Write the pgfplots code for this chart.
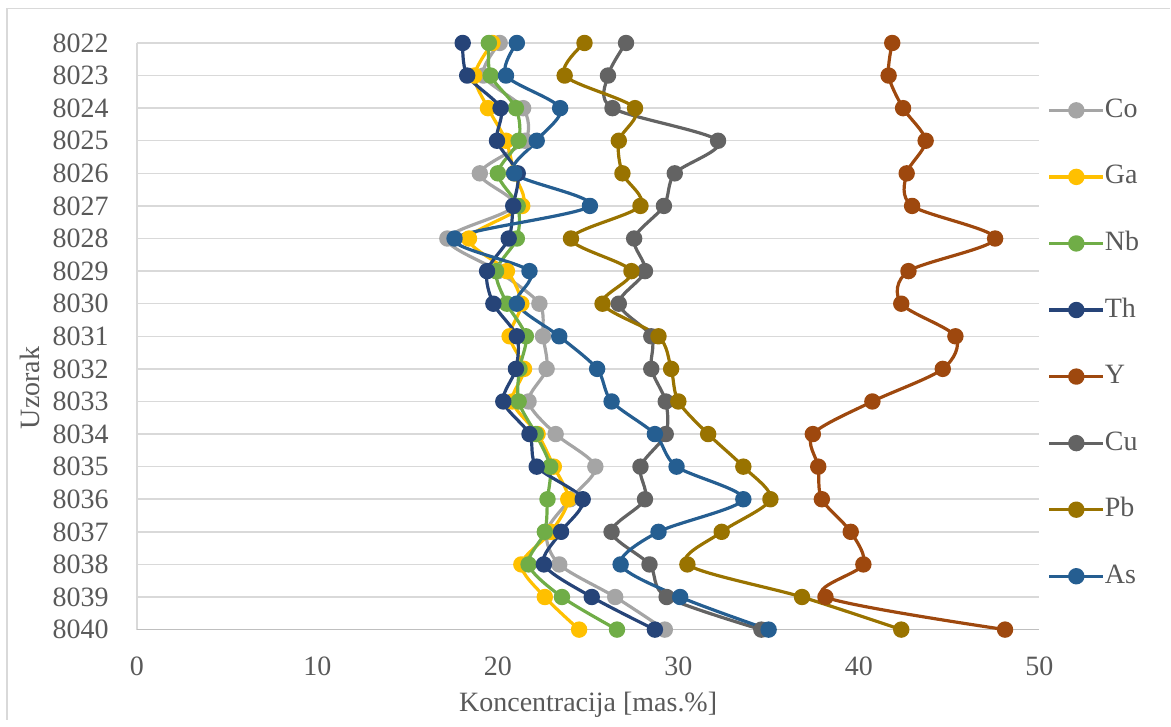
\documentclass[border=0pt]{standalone}
\usepackage{fontspec}
\setmainfont{Liberation Serif}
\usepackage{pgfplots}
\pgfplotsset{compat=1.18}
\usepackage{pgfplotstable}

\definecolor{cCo}{HTML}{A5A5A5}
\definecolor{cGa}{HTML}{FFC000}
\definecolor{cNb}{HTML}{70AD47}
\definecolor{cTh}{HTML}{264478}
\definecolor{cY}{HTML}{9E480E}
\definecolor{cCu}{HTML}{636363}
\definecolor{cPb}{HTML}{997300}
\definecolor{cAs}{HTML}{255E91}
\definecolor{cGrid}{HTML}{D9D9D9}
\definecolor{cAxis}{HTML}{BFBFBF}
\definecolor{cText}{HTML}{595959}

\pgfplotstableread{
y    Co    Ga    Nb    Th    Y     Cu    Pb    As
8022 20.1  19.7  19.5  18.05 41.85 27.1  24.8  21.05
8023 19.2  18.7  19.6  18.3  41.65 26.1  23.7  20.45
8024 21.4  19.45 21.0  20.15 42.45 26.35 27.6  23.45
8025 21.5  20.45 21.15 19.95 43.7  32.2  26.7  22.15
8026 19.0  20.9  20.0  21.1  42.65 29.8  26.9  20.9
8027 20.9  21.35 21.1  20.85 42.95 29.2  27.9  25.1
8028 17.2  18.4  21.05 20.6  47.55 27.55 24.05 17.6
8029 20.0  20.5  19.9  19.4  42.75 28.15 27.4  21.75
8030 22.3  21.3  20.5  19.75 42.35 26.7  25.8  21.05
8031 22.5  20.65 21.55 21.05 45.35 28.5  28.9  23.4
8032 22.7  21.45 21.2  21.0  44.65 28.5  29.6  25.5
8033 21.7  20.8  21.15 20.3  40.75 29.3  30.0  26.3
8034 23.2  22.2  22.1  21.75 37.45 29.3  31.65 28.7
8035 25.4  23.1  22.9  22.15 37.75 27.9  33.6  29.9
8036 24.0  23.9  22.75 24.7  37.95 28.15 35.1  33.6
8037 22.7  22.95 22.6  23.5  39.55 26.3  32.4  28.9
8038 23.4  21.3  21.7  22.55 40.25 28.4  30.5  26.8
8039 26.5  22.6  23.55 25.2  38.15 29.35 36.85 30.1
8040 29.25 24.5  26.6  28.7  48.1  34.6  42.35 35.0
}\datatable

\pgfplotsset{
  ser/.style={smooth, tension=0.5, color=#1, line width=1.6pt, line join=round,
    mark=*, mark size=3.3pt, mark options={solid, fill=#1, draw=#1}},
}

\begin{document}
\fontsize{14}{16.8}\selectfont
\begin{tikzpicture}
\path (0,0) rectangle (585.5pt,360pt);
\draw[color=cGrid, line width=0.75pt] (3.5pt,0) -- (3.5pt,355.7pt) -- (585.5pt,355.7pt);
\begin{axis}[
  at={(68.5pt,45pt)}, anchor=south west,
  width=451.5pt, height=293.5pt, scale only axis,
  xmin=0, xmax=50, ymin=8022, ymax=8040, y dir=reverse,
  xtick={0,10,...,50}, ytick={8022,8023,...,8040},
  ymajorgrids, grid style={color=cGrid, line width=0.75pt},
  axis line style={draw=none},
  major tick length=0pt,
  tick label style={font=\fontsize{14}{16.8}\selectfont, color=cText},
  /pgf/number format/assume math mode=true,
  /pgf/number format/1000 sep={},
  yticklabel style={anchor=east, inner sep=0pt, xshift=-14pt},
  xticklabel style={anchor=north, inner sep=0pt, yshift=-13.5pt},
  xlabel={Koncentracija [mas.\%]},
  ylabel={Uzorak},
  label style={font=\fontsize{14}{16.8}\selectfont, text=cText},
  xlabel style={at={(axis description cs:0.5,-0.1278)}, anchor=center},
  ylabel style={at={(axis description cs:-0.1185,0.412)}, anchor=center},
  legend style={at={(axis description cs:1.00886,0.908)}, anchor=north west,
    draw=none, fill=none, inner sep=0pt, row sep=20.3pt,
    font=\fontsize{14}{16.8}\selectfont, text=cText,
    nodes={inner sep=0pt, text height=10pt, text depth=3pt},
    /tikz/every even column/.append style={column sep=2.5pt}},
  legend cell align=left,
  legend image code/.code={\draw[mark repeat=2, mark phase=2] plot coordinates {(0pt,0pt) (13.5pt,0pt) (27pt,0pt)};},
  clip=false,
]
\draw[color=cGrid, line width=0.75pt] (axis cs:0,8022) -- (axis cs:0,8040);
\draw[color=cAxis, line width=0.75pt] (axis cs:0,8040) -- (axis cs:50,8040);
\addplot[ser=cCo] table[x=Co, y=y]{\datatable};
\addlegendentry{Co}
\addplot[ser=cGa] table[x=Ga, y=y]{\datatable};
\addlegendentry{Ga}
\addplot[ser=cNb] table[x=Nb, y=y]{\datatable};
\addlegendentry{Nb}
\addplot[ser=cTh] table[x=Th, y=y]{\datatable};
\addlegendentry{Th}
\addplot[ser=cY] table[x=Y, y=y]{\datatable};
\addlegendentry{Y}
\addplot[ser=cCu] table[x=Cu, y=y]{\datatable};
\addlegendentry{Cu}
\addplot[ser=cPb] table[x=Pb, y=y]{\datatable};
\addlegendentry{Pb}
\addplot[ser=cAs] table[x=As, y=y]{\datatable};
\addlegendentry{As}
\end{axis}
\end{tikzpicture}
\end{document}
